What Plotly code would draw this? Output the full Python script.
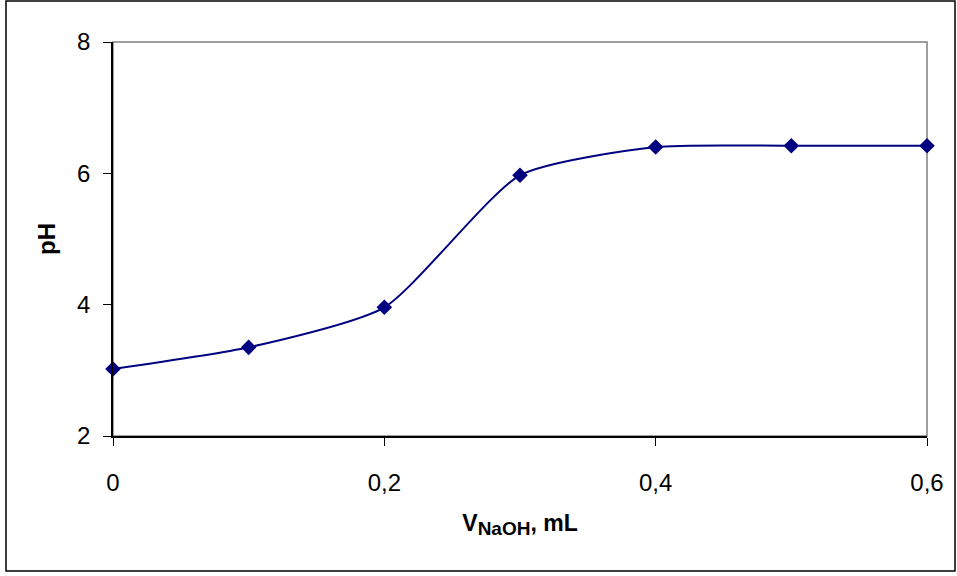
import plotly.graph_objects as go

volume_ml = [0, 0.1, 0.2, 0.3, 0.4, 0.5, 0.6]
ph_values = [3.02, 3.35, 3.96, 5.97, 6.40, 6.42, 6.42]
x_tick_vals = [0, 0.2, 0.4, 0.6]
x_tick_text = ["0", "0,2", "0,4", "0,6"]
y_tick_vals = [2, 4, 6, 8]

fig = go.Figure()
fig.add_trace(go.Scatter(
    x=volume_ml, y=ph_values, mode="lines+markers",
    line=dict(color="#000080", width=2, shape="spline", smoothing=0.6),
    marker=dict(symbol="diamond", size=12, color="#000080"),
    showlegend=False, cliponaxis=False,
))

font = "Liberation Sans, Arial, sans-serif"
fig.update_layout(
    width=957, height=576,
    margin=dict(l=113, r=30, t=42, b=140),
    paper_bgcolor="white", plot_bgcolor="white",
    font=dict(family=font, color="black", size=24),
    xaxis=dict(
        range=[0, 0.6], tickvals=x_tick_vals, ticktext=x_tick_text,
        showgrid=False, zeroline=False, showline=True, linecolor="black", linewidth=1.5,
        ticks="outside", ticklen=8, tickcolor="black", tickwidth=1,
        tickfont=dict(size=24), ticklabelstandoff=16,
        title=dict(text="<b>V<sub><span style='font-size:19px'>NaOH</span></sub>, mL</b>",
                   font=dict(size=23), standoff=20),
    ),
    yaxis=dict(
        range=[2, 8], tickvals=y_tick_vals,
        showgrid=False, zeroline=False, showline=True, linecolor="black", linewidth=1.5,
        ticks="outside", ticklen=8, tickcolor="black", tickwidth=1,
        tickfont=dict(size=24), ticklabelstandoff=8,
        title=dict(text="<b>pH</b>", font=dict(size=24), standoff=15),
    ),
    shapes=[
        dict(type="rect", xref="paper", yref="paper", x0=0, x1=1, y0=0, y1=1,
             line=dict(color="#808080", width=1.5), layer="below"),
        dict(type="rect", xref="paper", yref="paper",
             x0=(6 - 113) / 814, x1=(955 - 113) / 814,
             y0=(436 - 571) / 394, y1=(436 - 1) / 394,
             line=dict(color="black", width=1.5), layer="below"),
    ],
)
fig.write_html("out.html")
